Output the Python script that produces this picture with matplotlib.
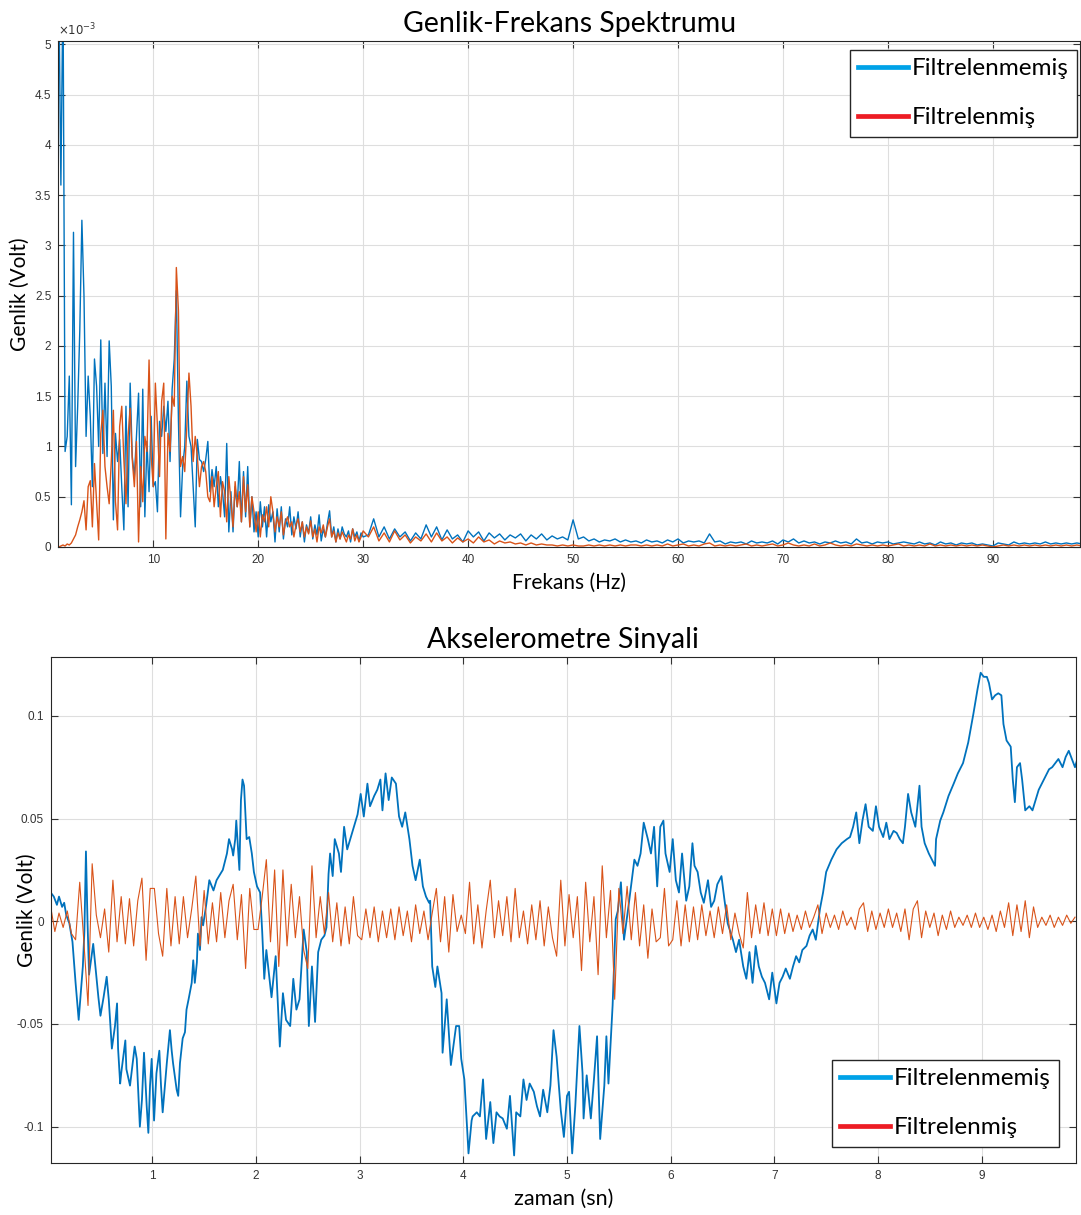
import numpy as np
import matplotlib
matplotlib.use('Agg')
import matplotlib.pyplot as plt
from matplotlib.lines import Line2D
from matplotlib.ticker import FormatStrFormatter

# ---- spectrum (amplitude in 1e-3 V) ----
# 1.0 .. 30.0 Hz, every 0.2 Hz
spec_raw_lo = [5.6, 3.6, 5.6, 0.95, 1.1, 1.7, 0.42, 3.13, 0.8, 1.4,
               2.15, 3.25, 2.5, 1.1, 1.7, 1.3, 0.6, 1.87, 1.6, 1.0,
               2.06, 0.93, 1.63, 0.9, 2.05, 1.6, 0.27, 1.13, 0.85, 1.07,
               0.6, 0.17, 1.4, 0.4, 1.63, 0.9, 0.7, 1.1, 1.53, 0.4,
               1.57, 0.3, 1.05, 0.55, 1.3, 0.6, 0.65, 0.35, 1.25, 1.1,
               1.4, 1.15, 1.45, 0.85, 1.57, 1.87, 2.55, 1.25, 0.3, 0.8,
               1.0, 1.65, 1.1, 1.0, 0.6, 0.2, 1.07, 0.87, 0.85, 0.75,
               0.87, 1.05, 0.55, 0.77, 0.6, 0.8, 0.4, 0.7, 0.55, 0.3,
               1.03, 0.15, 0.55, 0.15, 0.6, 0.4, 0.85, 0.25, 0.75, 0.3,
               0.8, 0.2, 0.5, 0.15, 0.35, 0.1, 0.45, 0.2, 0.4, 0.1,
               0.42, 0.25, 0.35, 0.05, 0.38, 0.15, 0.4, 0.08, 0.28, 0.2,
               0.4, 0.12, 0.3, 0.18, 0.35, 0.1, 0.25, 0.05, 0.22, 0.14,
               0.3, 0.08, 0.22, 0.12, 0.32, 0.06, 0.18, 0.1, 0.24, 0.36,
               0.1, 0.2, 0.05, 0.18, 0.08, 0.2, 0.13, 0.1, 0.16, 0.05,
               0.18, 0.1, 0.15, 0.06, 0.14, 0.1]
spec_filt_lo = [0.0, 0.01, 0.02, 0.01, 0.03, 0.02, 0.04, 0.08, 0.12, 0.2,
                0.27, 0.35, 0.46, 0.17, 0.6, 0.66, 0.2, 0.83, 0.45, 0.07,
                1.13, 1.36, 0.8, 0.6, 0.43, 0.85, 1.36, 0.45, 0.17, 1.2,
                1.4, 0.87, 0.43, 1.1, 1.38, 0.87, 0.6, 1.05, 0.05, 0.8,
                0.45, 1.1, 0.95, 1.86, 0.9, 0.6, 1.63, 1.2, 0.7, 1.45,
                1.63, 0.08, 1.13, 0.95, 1.5, 1.4, 2.78, 2.35, 0.8, 0.9,
                0.75, 1.2, 1.73, 1.4, 0.85, 1.1, 0.9, 0.6, 0.8, 0.85,
                0.75, 0.5, 0.45, 0.7, 0.4, 0.6, 0.75, 0.3, 0.65, 0.55,
                0.25, 0.7, 0.45, 0.2, 0.65, 0.4, 0.55, 0.25, 0.7, 0.35,
                0.62, 0.2, 0.5, 0.35, 0.15, 0.35, 0.1, 0.32, 0.25, 0.4,
                0.2, 0.5, 0.35, 0.15, 0.3, 0.2, 0.35, 0.12, 0.25, 0.3,
                0.2, 0.25, 0.1, 0.22, 0.28, 0.15, 0.25, 0.1, 0.2, 0.13,
                0.26, 0.1, 0.18, 0.05, 0.2, 0.14, 0.22, 0.1, 0.2, 0.28,
                0.1, 0.16, 0.05, 0.14, 0.08, 0.15, 0.1, 0.05, 0.12, 0.08,
                0.18, 0.06, 0.12, 0.05, 0.1, 0.16]
# 30.5 .. 98.5 Hz, every 0.5 Hz
spec_raw_hi = [0.12, 0.28, 0.1, 0.2, 0.08, 0.18, 0.1, 0.15, 0.06, 0.14,
               0.08, 0.22, 0.1, 0.2, 0.07, 0.17, 0.08, 0.12, 0.05, 0.16,
               0.1, 0.15, 0.06, 0.14, 0.09, 0.13, 0.07, 0.12, 0.09, 0.13,
               0.06, 0.12, 0.08, 0.13, 0.07, 0.11, 0.08, 0.1, 0.07, 0.27,
               0.08, 0.1, 0.06, 0.08, 0.05, 0.07, 0.06, 0.08, 0.05, 0.07,
               0.05, 0.06, 0.04, 0.07, 0.05, 0.06, 0.04, 0.07, 0.05, 0.08,
               0.04, 0.06, 0.05, 0.06, 0.04, 0.13, 0.05, 0.06, 0.03, 0.05,
               0.04, 0.05, 0.03, 0.06, 0.04, 0.05, 0.04, 0.06, 0.03, 0.07,
               0.05, 0.08, 0.04, 0.06, 0.04, 0.05, 0.03, 0.05, 0.04, 0.06,
               0.04, 0.05, 0.03, 0.08, 0.04, 0.05, 0.03, 0.05, 0.04, 0.05,
               0.03, 0.04, 0.05, 0.04, 0.03, 0.05, 0.03, 0.04, 0.02, 0.05,
               0.03, 0.04, 0.02, 0.04, 0.03, 0.04, 0.02, 0.03, 0.02, 0.01,
               0.04, 0.03, 0.02, 0.05, 0.03, 0.04, 0.03, 0.04, 0.03, 0.05,
               0.03, 0.04, 0.03, 0.04, 0.03, 0.04, 0.03]
spec_filt_hi = [0.1, 0.2, 0.06, 0.14, 0.05, 0.16, 0.07, 0.12, 0.04, 0.1,
                0.06, 0.13, 0.05, 0.14, 0.06, 0.1, 0.04, 0.09, 0.05, 0.08,
                0.04, 0.1, 0.05, 0.07, 0.03, 0.06, 0.04, 0.05, 0.03, 0.04,
                0.02, 0.04, 0.02, 0.03, 0.02, 0.02, 0.01, 0.02, 0.01, 0.02,
                0.01, 0.01, 0.02, 0.01, 0.02, 0.01, 0.02, 0.01, 0.02, 0.01,
                0.02, 0.02, 0.01, 0.02, 0.01, 0.02, 0.01, 0.03, 0.01, 0.02,
                0.03, 0.01, 0.02, 0.01, 0.03, 0.04, 0.01, 0.02, 0.01, 0.02,
                0.01, 0.02, 0.03, 0.01, 0.02, 0.01, 0.02, 0.03, 0.01, 0.02,
                0.04, 0.02, 0.01, 0.02, 0.01, 0.03, 0.01, 0.02, 0.04, 0.02,
                0.01, 0.02, 0.01, 0.03, 0.02, 0.01, 0.02, 0.01, 0.02, 0.01,
                0.02, 0.03, 0.01, 0.02, 0.01, 0.02, 0.01, 0.03, 0.01, 0.02,
                0.01, 0.02, 0.01, 0.02, 0.01, 0.02, 0.01, 0.02, 0.01, 0.0,
                0.01, 0.02, 0.01, 0.02, 0.01, 0.02, 0.01, 0.02, 0.01, 0.02,
                0.01, 0.02, 0.01, 0.02, 0.01, 0.02, 0.01]

# ---- accelerometer signal (mV) ----
raw_t = [0.02, 0.05, 0.08, 0.10, 0.13, 0.15, 0.17, 0.20, 0.23, 0.26,
         0.29, 0.31, 0.33, 0.345, 0.36, 0.375, 0.39, 0.43, 0.48, 0.50,
         0.53, 0.56, 0.58, 0.61, 0.64, 0.66, 0.67, 0.69, 0.70, 0.74,
         0.75, 0.785, 0.83, 0.85, 0.88, 0.90, 0.92, 0.946, 0.962, 0.978,
         0.994, 1.017, 1.04, 1.068, 1.084, 1.10, 1.14, 1.17, 1.187, 1.20,
         1.235, 1.25, 1.267, 1.293, 1.315, 1.33, 1.35, 1.38, 1.395, 1.41,
         1.43, 1.44, 1.46, 1.475, 1.49, 1.52, 1.55, 1.59, 1.62, 1.68,
         1.72, 1.74, 1.77, 1.78, 1.80, 1.81, 1.84, 1.855, 1.87, 1.885,
         1.91, 1.935, 1.96, 1.98, 2.01, 2.04, 2.06, 2.08, 2.10, 2.15,
         2.19, 2.23, 2.26, 2.29, 2.33, 2.36, 2.39, 2.42, 2.46, 2.49,
         2.51, 2.54, 2.57, 2.60, 2.63, 2.66, 2.68, 2.70, 2.715, 2.74,
         2.76, 2.80, 2.82, 2.85, 2.88, 2.945, 2.98, 3.01, 3.04, 3.075,
         3.10, 3.14, 3.17, 3.20, 3.22, 3.25, 3.28, 3.31, 3.35, 3.38,
         3.41, 3.44, 3.48, 3.51, 3.54, 3.58, 3.61, 3.64, 3.67, 3.68,
         3.70, 3.73, 3.75, 3.79, 3.80, 3.84, 3.88, 3.93, 3.96, 3.98,
         4.01, 4.05, 4.08, 4.09, 4.13, 4.16, 4.19, 4.22, 4.26, 4.29,
         4.32, 4.35, 4.38, 4.42, 4.45, 4.49, 4.51, 4.55, 4.58, 4.61,
         4.64, 4.68, 4.71, 4.74, 4.77, 4.81, 4.84, 4.87, 4.90, 4.94,
         4.97, 5.00, 5.02, 5.05, 5.08, 5.12, 5.15, 5.16, 5.19, 5.23,
         5.26, 5.29, 5.32, 5.36, 5.38, 5.40, 5.44, 5.47, 5.49, 5.52,
         5.55, 5.60, 5.65, 5.68, 5.71, 5.74, 5.78, 5.81, 5.84, 5.87,
         5.90, 5.93, 5.95, 5.99, 6.02, 6.05, 6.08, 6.11, 6.15, 6.18,
         6.21, 6.23, 6.26, 6.29, 6.32, 6.36, 6.39, 6.42, 6.45, 6.49,
         6.52, 6.55, 6.60, 6.63, 6.66, 6.70, 6.73, 6.76, 6.79, 6.82,
         6.85, 6.88, 6.91, 6.95, 6.98, 7.02, 7.05, 7.08, 7.11, 7.15,
         7.18, 7.21, 7.24, 7.27, 7.31, 7.34, 7.37, 7.40, 7.44, 7.47,
         7.50, 7.55, 7.60, 7.65, 7.70, 7.73, 7.76, 7.79, 7.82, 7.85,
         7.88, 7.91, 7.95, 7.98, 8.01, 8.05, 8.08, 8.11, 8.15, 8.18,
         8.21, 8.24, 8.26, 8.29, 8.32, 8.36, 8.40, 8.42, 8.45, 8.49,
         8.52, 8.55, 8.56, 8.60, 8.63, 8.68, 8.73, 8.77, 8.82, 8.87,
         8.92, 8.96, 8.99, 9.02, 9.05, 9.07, 9.10, 9.13, 9.16, 9.19,
         9.21, 9.24, 9.28, 9.30, 9.32, 9.34, 9.37, 9.39, 9.42, 9.46,
         9.49, 9.52, 9.55, 9.58, 9.61, 9.65, 9.68, 9.71, 9.74, 9.78,
         9.81, 9.84, 9.87, 9.90, 9.94]
raw_mv = [14, 12, 8, 12, 7, 9, 3, -1, -10, -30,
          -48, -35, -22, -5, 34, 0, -26, -11, -37, -46,
          -37, -27, -38, -62, -51, -40, -62, -79, -74, -58,
          -72, -80, -61, -67, -100, -87, -64, -90, -103, -80,
          -67, -97, -74, -63, -80, -93, -69, -53, -63, -69,
          -82, -85, -69, -57, -54, -43, -38, -30, -19, -30,
          -20, -6, -14, 2, -2, 8, 20, 15, 20, 25,
          33, 40, 35, 32, 40, 49, 25, 59, 69, 66,
          40, 41, 33, 24, 17, 14, -5, -28, -14, -37,
          -17, -61, -35, -48, -51, -28, -43, -38, -4, -15,
          -51, -22, -49, -15, -9, -7, -3, 23, 33, 22,
          40, 33, 24, 46, 35, 46, 52, 62, 51, 67,
          56, 61, 64, 69, 54, 72, 59, 70, 67, 51,
          46, 53, 40, 27, 20, 30, 17, 12, 9, 10,
          -22, -32, -22, -35, -64, -38, -70, -51, -51, -67,
          -77, -113, -97, -95, -93, -95, -77, -106, -88, -108,
          -93, -95, -96, -101, -85, -114, -93, -95, -77, -87,
          -79, -83, -90, -95, -82, -93, -80, -53, -66, -92,
          -105, -85, -83, -113, -90, -51, -74, -96, -75, -96,
          -77, -56, -106, -80, -56, -79, -41, 1, 5, 19,
          -9, 10, 30, 27, 33, 48, 40, 33, 46, 17,
          46, 49, 33, 24, 40, 20, 14, 33, 10, 17,
          38, 27, 24, 14, 9, 20, 7, 10, 18, 22,
          10, -1, -9, -15, -9, -22, -28, -15, -30, -12,
          -22, -27, -30, -38, -25, -40, -30, -27, -23, -28,
          -22, -17, -20, -14, -12, -7, -4, -9, 6, 14,
          24, 30, 35, 38, 40, 41, 46, 53, 38, 49,
          57, 46, 44, 56, 46, 41, 48, 40, 44, 43,
          40, 38, 46, 62, 53, 46, 66, 46, 38, 33,
          30, 27, 40, 49, 53, 61, 67, 72, 77, 87,
          101, 113, 121, 119, 119, 116, 108, 110, 111, 110,
          96, 88, 85, 69, 58, 75, 77, 69, 54, 56,
          54, 59, 64, 67, 70, 74, 75, 77, 79, 75,
          80, 83, 79, 75, 82]
# filtered signal, one value every 0.04 s from 0.02 s
filt_start, filt_step = 0.02, 0.04
filt_mv = [7, -5, 4, -3, 5, -6, -9, 19, -10, -41, 28, 3, -8, 6, -15, 20, -10, 12, -11, 11, -12, 10, 21, -19, 16,
           16, -6, -17, 16, -12, 12, -11, 12, -8, 6, 22, -12, 15, -11, 9, -10, 14, -8, 10, 18, -9, 13, -23, 16, -4,
           -4, 12, 30, -10, 25, -22, 25, -12, 18, -8, 12, -14, -23, 27, -8, 12, -6, 14, -10, 9, -12, 7, -11, 12, -7,
           -9, 6, -8, 7, -10, 5, -8, 6, -9, 7, -7, 5, -10, 8, -6, 5, -9, 4, 16, -10, 12, -15, 13, -5, 3,
           -6, 19, -11, 8, -13, 5, 20, -8, 10, -7, 12, -10, 16, -8, 5, -11, 8, -9, 10, -12, 7, -8, -17, 20, -12,
           13, -8, 12, -24, 19, -10, 12, -26, 27, -8, 15, -38, 16, -6, 17, -9, 14, -12, 8, -18, 6, -10, -8, 16, -12,
           -9, 10, -12, 8, -10, 7, -9, 8, -7, 5, -8, 7, -6, 8, -9, 4, -6, -13, 14, -8, 8, -6, 9, -7, 6,
           -7, 6, -6, 4, -5, 3, -4, 5, -3, 2, 8, -6, 4, -3, 3, -4, 5, -2, 2, -4, 6, 9, -5, 5, -4,
           4, -3, 6, -3, 4, -5, 6, -9, 6, 10, -8, 5, -3, 4, -7, 3, -4, 5, -3, 2, -2, 3, -3, 4, -3,
           2, -4, 3, -5, 5, -3, 9, -7, 8, -5, 10, -8, 7, -3, 2, -2, 3, -3, 2, -2, 3, -1, 2]

labels = ['Filtrelenmemiş', 'Filtrelenmiş']

BLUE, ORANGE = '#0072BD', '#D95319'
LEG_BLUE, LEG_RED = '#00A2E8', '#ED1C24'
TXT = ['Lato', 'DejaVu Sans']

freq = np.concatenate([1.0 + 0.2 * np.arange(len(spec_raw_lo)),
                       30.5 + 0.5 * np.arange(len(spec_raw_hi))])
spec_raw = np.array(spec_raw_lo + spec_raw_hi)
spec_filt = np.array(spec_filt_lo + spec_filt_hi)

t_filt = filt_start + filt_step * np.arange(len(filt_mv))


def matlab_style(ax):
    ax.grid(True, color='#dedede', linewidth=0.8)
    ax.set_axisbelow(True)
    for s in ax.spines.values():
        s.set_color('#262626')
        s.set_linewidth(0.8)
    ax.tick_params(direction='in', length=5, width=0.8, top=True, right=True,
                   labelsize=8.5, colors='#333333', pad=5)
    for lab in ax.get_xticklabels() + ax.get_yticklabels():
        lab.set_fontfamily('Liberation Sans')


def add_legend(ax, anchor):
    handles = [Line2D([], [], color=LEG_BLUE, lw=3.4),
               Line2D([], [], color=LEG_RED, lw=3.4)]
    leg = ax.legend(handles, labels, loc='upper right', bbox_to_anchor=anchor,
                    prop={'family': TXT, 'size': 17.5}, frameon=True, fancybox=False,
                    framealpha=1, edgecolor='#262626', handlelength=2.05,
                    handletextpad=0.15, labelspacing=1.15, borderpad=0.35,
                    borderaxespad=0)
    leg.get_frame().set_linewidth(1.0)


fig = plt.figure(figsize=(10.81, 12.15), dpi=100)

# top: spectrum
ax1 = fig.add_axes([0.0539, 0.5498, 0.9452, 0.4167])
ax1.plot(freq, spec_raw, color=BLUE, lw=1.0)
ax1.plot(freq, spec_filt, color=ORANGE, lw=1.0)
ax1.set_xlim(0.95, 98.3)
ax1.set_ylim(0, 5.036)
ax1.set_xticks(np.arange(10, 100, 10))
ax1.set_yticks(np.arange(0, 5.01, 0.5))
ax1.yaxis.set_major_formatter(FormatStrFormatter('%g'))
matlab_style(ax1)
ax1.set_title('Genlik-Frekans Spektrumu', family=TXT, fontsize=20.5, pad=6)
ax1.set_xlabel('Frekans (Hz)', family=TXT, fontsize=15, labelpad=5)
ax1.set_ylabel('Genlik (Volt)', family=TXT, fontsize=15)
ax1.yaxis.set_label_coords(-0.0277, 0.5)
ax1.text(0.0, 1.004, r'$\times10^{-3}$', transform=ax1.transAxes,
         fontsize=8.5, color='#333333', va='bottom', ha='left')
add_legend(ax1, (0.997, 0.982))

# bottom: time signal
ax2 = fig.add_axes([0.0469, 0.0426, 0.9485, 0.4169])
ax2.plot(raw_t, np.array(raw_mv) / 1000.0, color=BLUE, lw=1.3)
ax2.plot(t_filt, np.array(filt_mv) / 1000.0, color=ORANGE, lw=0.8)
ax2.set_xlim(0.02, 9.91)
ax2.set_ylim(-0.1178, 0.1288)
ax2.set_xticks(np.arange(1, 10, 1))
ax2.set_yticks([-0.1, -0.05, 0, 0.05, 0.1])
ax2.yaxis.set_major_formatter(FormatStrFormatter('%g'))
matlab_style(ax2)
ax2.set_title('Akselerometre Sinyali', family=TXT, fontsize=20.5, pad=6)
ax2.set_xlabel('zaman (sn)', family=TXT, fontsize=15.5, labelpad=5)
ax2.set_ylabel('Genlik (Volt)', family=TXT, fontsize=15)
ax2.yaxis.set_label_coords(-0.0134, 0.5)
add_legend(ax2, (0.9834, 0.204))

fig.savefig('out.png', dpi=100)
